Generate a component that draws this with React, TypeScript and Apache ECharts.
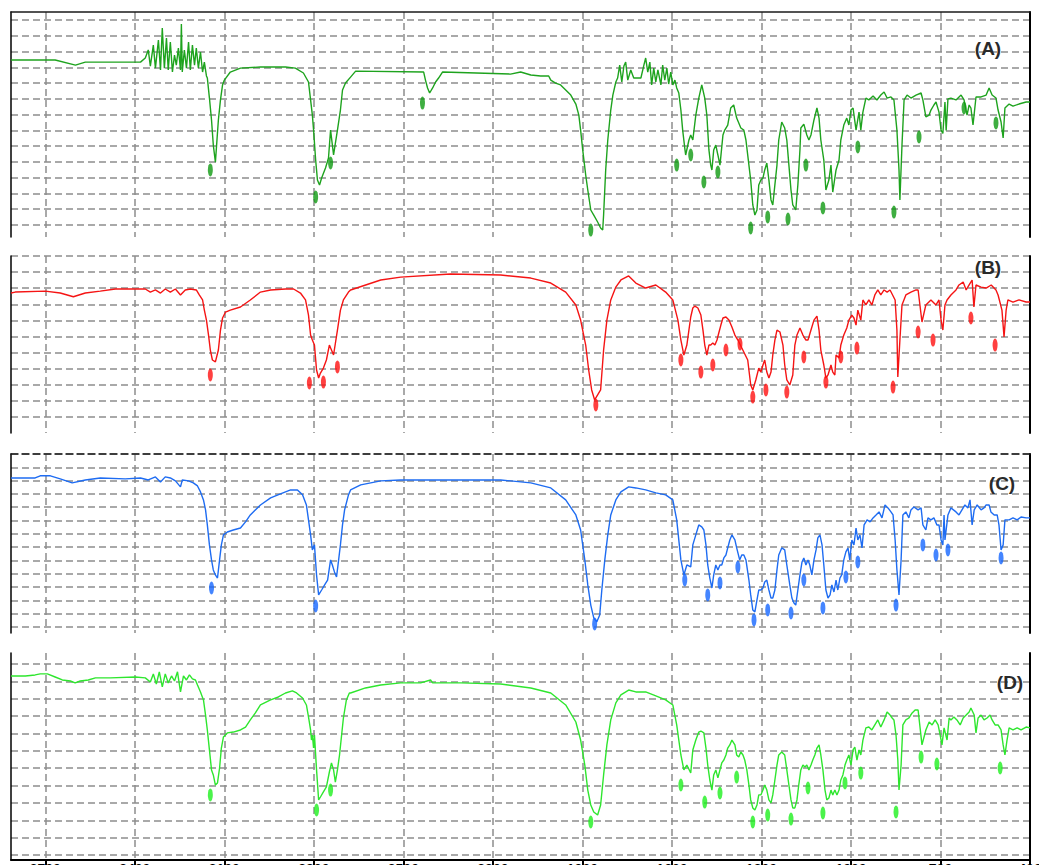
import React, { useEffect, useRef } from "react";
import * as echarts from "echarts";

// wavenumber range (cm-1), reversed axis
const WN_MIN = 400;
const WN_MAX = 3815;
const GRID_WN_START = 400;
const GRID_WN_END = 3700;
const GRID_WN_STEP = 300;

const specA: [number, number][] = [
  [3815,104.6],[3667,104.6],[3599,101.4],[3566,103.3],[3381,103.3],[3365,105.9],[3355,111],[3348,100.8],[3338,114.1],[3331,99.5],[3321,117.3],[3314,98.3],[3308,124.9],[3301,99.5],[3294,118.6],[3288,98.3],[3281,116],[3274,97],[3267,107.8],[3261,101.4],[3254,112.2],[3247,98.3],[3244,127.4],[3241,97],[3234,111],[3227,99.5],[3220,116],[3214,98.3],[3207,114.1],[3200,101.4],[3194,112.2],[3187,99.5],[3180,109.7],[3173,97],[3167,103.3],[3160,94.5],[3157,93.2],[3150,80.5],[3143,66.6],[3137,50.7],[3130,39.9],[3120,66.6],[3113,79.3],[3106,88.8],[3100,91.9],[3080,97],[3046,99.5],[2979,100.2],[2895,100.2],[2862,99.5],[2835,96.4],[2818,90.7],[2811,79.3],[2805,69.7],[2801,60.2],[2794,41.2],[2788,28.5],[2781,25.4],[2774,29.8],[2761,36.1],[2751,42.5],[2744,60.2],[2734,44.4],[2721,60.2],[2711,72.9],[2704,85.6],[2694,90],[2677,93.8],[2660,97.6],[2432,97],[2426,91.9],[2419,86.9],[2412,83.7],[2402,86.9],[2392,90.7],[2382,93.2],[2369,97],[2141,95.7],[2107,97],[2073,95.1],[2040,94.5],[2013,94.5],[2006,91.9],[1990,90],[1973,88.8],[1956,85.6],[1939,82.4],[1922,76.7],[1912,69.7],[1906,60.2],[1899,47.6],[1889,31.7],[1882,22.2],[1872,9.5],[1862,6.3],[1849,1.9],[1839,-1.9],[1832,-3.2],[1829,6.3],[1822,34.9],[1815,53.9],[1805,72.9],[1798,82.4],[1788,90.7],[1782,93.2],[1775,101.4],[1768,90.7],[1761,100.8],[1755,103.3],[1748,91.9],[1738,98.3],[1728,93.2],[1704,93.2],[1694,101.4],[1688,105.9],[1681,97],[1674,103.3],[1668,88.8],[1661,99.5],[1654,90.7],[1647,98.3],[1637,88.8],[1631,101.4],[1624,91.9],[1617,99.5],[1611,89.4],[1604,97],[1597,88.8],[1590,91.9],[1584,86.9],[1577,83.7],[1570,72.9],[1564,60.2],[1557,48.8],[1554,44.4],[1543,53.9],[1537,57.1],[1530,53.9],[1520,69.7],[1510,80.5],[1500,88.8],[1490,80.5],[1483,69.7],[1476,47.6],[1470,38],[1466,34.9],[1460,47.6],[1453,50.7],[1446,44.4],[1439,38],[1429,57.1],[1423,60.2],[1413,63.4],[1403,74.2],[1393,76.1],[1383,67.8],[1369,61.5],[1359,60.2],[1352,53.9],[1342,38],[1336,28.5],[1329,12.7],[1322,6.3],[1315,9.5],[1309,25.4],[1302,28.5],[1295,29.8],[1289,34.9],[1282,39.3],[1275,28.5],[1268,15.9],[1262,12.7],[1255,25.4],[1248,38],[1242,53.9],[1232,65.3],[1222,61.5],[1215,53.9],[1208,38],[1201,22.2],[1195,12.7],[1185,9.5],[1178,25.4],[1171,47.6],[1168,61.5],[1158,64],[1148,57.1],[1141,53.9],[1134,57.1],[1124,66.6],[1114,74.2],[1107,67.8],[1101,53.9],[1091,41.2],[1084,22.2],[1074,28.5],[1067,38],[1061,20.9],[1050,34.9],[1040,41.2],[1034,53.9],[1024,63.4],[1014,67.8],[1007,63.4],[1000,72.9],[993,74.2],[983,60.2],[973,71.6],[967,60.2],[960,71.6],[950,80.5],[940,79.3],[926,81.8],[913,79.3],[900,82.4],[889,84.3],[879,80.5],[866,81.2],[856,79.3],[846,60.2],[839,34.9],[836,15.9],[829,50.7],[822,79.3],[812,82.4],[799,80.5],[782,82.4],[765,83.7],[759,79.3],[749,68.5],[738,69.7],[732,72.9],[722,76.1],[715,78],[705,71.6],[698,60.2],[692,58],[685,78],[681,60],[675,80],[665,80.5],[648,79.3],[631,82.4],[621,79.3],[611,69.7],[604,76.1],[598,74.2],[591,63.4],[581,81.2],[564,81.2],[547,82.4],[537,86.9],[527,82.4],[514,80.5],[507,72.9],[497,65.3],[490,55.2],[484,74.2],[470,76.7],[457,75.4],[437,76.7],[413,78],[400,78]
];
const peaksA: [number, number][] = [
  [3147,34.9],[2794,17.8],[2744,39.3],[2436,77.3],[1872,-3.2],[1584,38],[1537,44.4],[1493,27.3],[1446,33.6],[1336,-1.9],[1279,5.1],[1211,3.8],[1151,38],[1094,10.8],[977,49.5],[856,8.2],[772,55.8],[621,74.2],[514,64.7]
];

const specB: [number, number][] = [
  [3815,77],[3801,77.6],[3700,78.2],[3650,77],[3606,74.7],[3566,77],[3516,78.2],[3465,79.5],[3398,79.5],[3365,79.5],[3348,77.6],[3331,78.9],[3314,77],[3298,79.5],[3281,77.6],[3264,79.5],[3247,75.8],[3231,78.9],[3214,79.5],[3194,78.9],[3184,75.8],[3173,72.7],[3167,66.4],[3160,60.2],[3153,50.9],[3147,41.6],[3140,35.4],[3130,34.2],[3120,41.6],[3113,54],[3106,61.5],[3096,65.2],[3080,66.4],[3046,68.3],[3013,72.7],[2979,77.6],[2945,78.9],[2895,79.5],[2868,79.5],[2845,77],[2828,72.7],[2818,63.3],[2811,50.9],[2805,47.8],[2798,44.7],[2791,29.2],[2784,24.2],[2778,27.3],[2768,30.4],[2758,35.4],[2748,44.7],[2741,41.6],[2734,38.5],[2721,54],[2711,66.4],[2701,72.7],[2684,77.6],[2677,78.9],[2576,85.1],[2509,86.9],[2342,88.8],[2174,88.2],[2073,86.3],[2006,83.2],[1956,77.6],[1922,69.6],[1906,60.2],[1889,44.7],[1879,29.2],[1869,16.8],[1859,10.6],[1849,13.7],[1839,16.8],[1829,41.6],[1818,60.2],[1805,72.7],[1788,80.7],[1771,85.1],[1745,87.6],[1721,83.2],[1688,80.1],[1654,82],[1621,77.6],[1597,72.7],[1580,60.2],[1570,47.8],[1560,38.5],[1550,44.7],[1537,62.1],[1530,67.7],[1523,68.9],[1513,67.7],[1503,63.3],[1496,54],[1490,44.7],[1483,38.5],[1476,44.7],[1470,44.7],[1463,46],[1456,44.7],[1449,47.8],[1443,52.2],[1436,57.1],[1429,61.5],[1419,62.1],[1409,60.2],[1399,55.9],[1389,50.9],[1379,47.8],[1346,35.4],[1336,19.9],[1329,16.8],[1319,23],[1309,30.4],[1302,27.9],[1295,32.3],[1289,35.4],[1282,27.9],[1275,24.2],[1268,27.9],[1262,38.5],[1255,47.8],[1248,54],[1238,52.8],[1228,44.7],[1222,32.3],[1215,23],[1205,19.9],[1195,26.1],[1188,44.7],[1181,50.9],[1171,55.3],[1161,50.9],[1151,47.8],[1144,47.8],[1134,54],[1124,60.2],[1114,62.7],[1107,54],[1101,41.6],[1091,32.3],[1084,24.2],[1077,26.1],[1067,32.3],[1061,27.9],[1054,26.1],[1050,38.5],[1040,36.6],[1034,44.7],[1024,50.9],[1014,55.3],[1007,60.2],[997,63.3],[990,61.5],[983,57.1],[977,66.4],[967,60.2],[960,72.7],[950,69.6],[940,72.7],[930,69.6],[920,75.8],[910,78.9],[900,75.8],[889,78.9],[879,77.6],[869,78.9],[852,72.7],[846,54],[843,24.8],[836,47.8],[829,69.6],[816,75.8],[799,77.6],[782,78.9],[775,78.9],[762,59],[749,69.6],[732,72.7],[715,69.6],[705,72.7],[698,60.2],[692,54],[685,69.6],[678,72.7],[665,75.8],[648,78.9],[638,82],[624,83.8],[614,78.9],[604,82],[594,85.1],[588,68.3],[581,82],[564,80.7],[547,80.1],[530,82],[514,78.9],[507,75.8],[494,66.4],[487,49.7],[480,66.4],[474,72.7],[457,71.4],[437,72.7],[413,71.4],[400,71.4]
];
const peaksB: [number, number][] = [
  [3147,26.1],[2815,21.1],[2768,21.7],[2721,31.1],[1855,7.5],[1570,35.4],[1503,27.9],[1463,32.3],[1419,41.6],[1372,45.3],[1329,12.4],[1285,16.8],[1215,15.5],[1158,37.3],[1084,21.7],[1034,37.3],[980,42.8],[859,18.6],[775,52.8],[725,47.8],[598,61.5],[517,44.7]
];

const specC: [number, number][] = [
  [3815,112],[3785,112],[3734,112],[3717,113.6],[3683,113.6],[3650,111.3],[3610,108.3],[3566,110.5],[3516,112],[3432,111.3],[3381,112],[3355,110.5],[3331,112.8],[3314,109],[3298,112.8],[3281,112],[3264,109.8],[3247,105.3],[3241,110.5],[3220,109.8],[3204,108.3],[3190,106],[3180,101.5],[3170,95.5],[3163,88],[3157,76.7],[3150,61.7],[3143,50.4],[3137,42.9],[3130,39.1],[3123,36.8],[3116,50.4],[3110,61.7],[3103,69.2],[3090,71.4],[3070,72.9],[3046,74.4],[3029,79],[3013,84.2],[2979,91.7],[2945,97],[2912,100],[2878,103],[2855,103],[2838,99.3],[2825,91.7],[2818,80.5],[2811,69.2],[2805,57.9],[2798,61.7],[2791,39.1],[2784,24.1],[2774,27.8],[2764,31.6],[2754,35.3],[2744,50.4],[2738,46.6],[2731,41.4],[2724,37.6],[2717,50.4],[2711,61.7],[2704,76.7],[2697,88],[2684,99.3],[2677,103],[2643,106.8],[2576,109.8],[2509,110.5],[2342,110.5],[2174,110.5],[2073,108.3],[2006,104.5],[1956,95.5],[1922,84.2],[1906,72.9],[1892,50.4],[1882,31.6],[1872,16.5],[1862,6.8],[1852,3.8],[1842,9],[1835,27.8],[1825,50.4],[1815,69.2],[1805,84.2],[1788,95.5],[1771,101.5],[1745,105.3],[1721,104.5],[1688,103],[1654,100.8],[1621,99.3],[1597,95.5],[1584,80.5],[1570,50.4],[1560,39.1],[1550,46.6],[1537,45.1],[1530,61.7],[1520,69.2],[1510,76.7],[1500,75.2],[1493,72.9],[1486,61.7],[1480,46.6],[1473,36.8],[1466,29.3],[1460,39.1],[1453,46.6],[1446,42.9],[1439,46.6],[1433,46.6],[1426,51.9],[1419,54.1],[1413,59.4],[1406,65.4],[1399,69.2],[1389,65.4],[1383,59.4],[1373,50.4],[1366,54.1],[1359,54.1],[1352,50.4],[1342,35.3],[1336,24.1],[1329,12.8],[1322,11.3],[1315,20.3],[1309,27.8],[1302,27.8],[1295,29.3],[1289,33.8],[1282,35.3],[1275,27.8],[1268,21.8],[1262,21.8],[1255,27.8],[1248,42.9],[1242,54.1],[1232,59.4],[1222,57.9],[1215,46.6],[1205,31.6],[1198,21.8],[1191,18],[1185,16.5],[1178,27.8],[1171,39.1],[1164,48.9],[1158,51.9],[1151,46.6],[1144,50.4],[1138,46.6],[1131,39.1],[1124,50.4],[1117,57.9],[1111,66.9],[1104,69.2],[1097,61.7],[1091,46.6],[1084,27.8],[1077,21.8],[1070,24.1],[1064,31.6],[1057,26.3],[1050,35.3],[1044,27.8],[1037,36.8],[1031,39.1],[1024,50.4],[1017,56.4],[1010,59.4],[1004,50.4],[997,65.4],[990,61.7],[983,74.4],[977,65.4],[970,69.2],[963,59.4],[956,76.7],[946,80.5],[936,79],[926,82],[916,84.2],[906,86.5],[896,82],[886,91.7],[876,89.5],[866,86.5],[859,84.2],[852,65.4],[846,42.9],[839,24.1],[832,50.4],[826,84.2],[816,86.5],[806,82],[799,88],[789,90.2],[775,88],[765,89.5],[759,76.7],[749,72.9],[742,82],[732,80.5],[722,82],[712,76.7],[705,76.7],[698,65.4],[692,61.7],[688,84.2],[685,65.4],[675,84.2],[665,89.5],[648,86.5],[638,84.2],[628,88],[618,91.7],[608,89.5],[601,95.5],[594,76.7],[587,88],[577,91.7],[564,88],[554,89.5],[547,91.7],[537,91.7],[531,86.5],[520,84.2],[510,84.2],[504,76.7],[497,57.9],[490,61.7],[484,80.5],[470,80.5],[457,82],[443,80.5],[430,82.7],[413,82],[400,82]
];
const peaksC: [number, number][] = [
  [3143,29.3],[2794,15.8],[1859,2.3],[1557,35.3],[1480,24.1],[1439,33.1],[1379,45.1],[1325,5.3],[1279,12.8],[1201,10.5],[1158,35.3],[1094,14.3],[1017,37.6],[977,48.9],[849,16.5],[759,61.7],[715,54.1],[675,57.9],[497,51.9]
];

const specD: [number, number][] = [
  [3815,103.1],[3767,103.1],[3734,103.7],[3717,104.3],[3693,104.3],[3667,102.5],[3643,100.8],[3616,100.2],[3600,99.1],[3583,100.2],[3556,100.8],[3532,102],[3482,102],[3398,102.5],[3365,102],[3348,99.6],[3338,104.3],[3328,98.5],[3318,105.5],[3308,96.8],[3298,104.3],[3288,99.1],[3277,103.1],[3267,100.2],[3257,105.5],[3247,93.9],[3237,103.1],[3227,100.8],[3217,103.7],[3207,101.4],[3197,100.8],[3190,97.9],[3180,93.9],[3170,89.3],[3163,80.6],[3157,72],[3150,60.5],[3143,49],[3137,46.1],[3130,40.3],[3123,41.5],[3116,50.1],[3110,61.6],[3103,68],[3090,70.3],[3070,70.8],[3046,72],[3029,73.7],[3013,77.8],[2996,81.8],[2979,86.4],[2945,89.3],[2919,91],[2895,93.3],[2872,94.5],[2858,93.3],[2838,90.4],[2825,86.4],[2818,79.5],[2811,72],[2808,66.2],[2805,69.1],[2801,61.6],[2798,69.1],[2791,49],[2784,31.7],[2778,33.4],[2768,36.3],[2758,39.2],[2748,47.8],[2741,53],[2734,49],[2728,42],[2721,49],[2714,57.6],[2707,69.1],[2701,78.9],[2691,89.3],[2681,93.3],[2677,93.3],[2627,96.2],[2576,97.9],[2509,99.1],[2442,99.1],[2409,100.8],[2402,99.1],[2308,99.1],[2174,98.5],[2073,96.2],[2006,93.3],[1956,86.4],[1922,76.6],[1906,66.2],[1892,51.8],[1882,37.4],[1872,28.8],[1862,24.8],[1849,23],[1839,28.8],[1829,46.1],[1818,63.4],[1805,77.8],[1788,87.6],[1771,92.2],[1745,95],[1721,93.9],[1688,93.9],[1654,91.6],[1621,89.3],[1597,86.4],[1584,74.9],[1570,57.6],[1560,49],[1550,51.8],[1537,47.2],[1530,60.5],[1520,66.2],[1510,70.8],[1503,71.4],[1493,70.3],[1486,61.6],[1480,51.8],[1473,43.2],[1466,37.4],[1460,46.1],[1453,49],[1446,44.4],[1439,49],[1433,53],[1426,54.7],[1419,57.6],[1413,61.6],[1406,63.4],[1399,66.2],[1389,63.4],[1383,57.6],[1376,56.4],[1369,59.3],[1362,57.6],[1356,54.7],[1349,49],[1342,40.3],[1336,31.7],[1329,27.1],[1322,25.9],[1315,28.8],[1309,34.6],[1302,34.6],[1295,37.4],[1289,40.3],[1282,37.4],[1275,31.7],[1268,30],[1262,34.6],[1255,43.2],[1248,51.8],[1242,57.6],[1232,59.3],[1222,57.6],[1215,49],[1208,40.3],[1201,31.7],[1195,27.1],[1188,27.1],[1181,31.7],[1175,40.3],[1168,49],[1161,51.8],[1154,50.7],[1148,51.8],[1141,49],[1134,51.8],[1128,54.7],[1121,57.6],[1114,61.6],[1107,63.4],[1101,57.6],[1094,49],[1087,37.4],[1081,31.7],[1074,32.8],[1067,37.4],[1061,34.6],[1054,37.4],[1047,34.6],[1040,37.4],[1034,43.2],[1027,46.1],[1020,51.8],[1014,54.7],[1007,57.6],[1000,51.8],[993,60.5],[987,62.2],[980,54.7],[973,60.5],[967,57.6],[960,66.2],[950,73.2],[940,73.7],[930,72],[920,74.9],[910,77.8],[900,73.7],[889,77.8],[879,82.4],[869,80.6],[862,78.9],[856,77.8],[849,69.1],[843,54.7],[839,37.4],[832,51.8],[826,74.9],[816,77.8],[806,78.9],[795,81.8],[785,83.5],[775,83.5],[762,63.4],[749,72],[738,76.6],[728,74.9],[718,77.8],[708,74.9],[701,69.1],[695,63.4],[688,73.2],[678,66.2],[671,78.9],[665,77.8],[655,79.5],[645,77.8],[634,74.9],[624,78.9],[614,80.6],[604,82.4],[598,84.7],[587,80.6],[581,70.3],[574,78.9],[564,80.6],[554,77.8],[544,78.9],[534,80.6],[527,77.8],[517,74.9],[507,74.9],[497,72],[490,63.4],[484,57.6],[477,66.2],[470,73.2],[457,72],[443,73.2],[430,72],[413,73.7],[400,73.2]
];
const peaksD: [number, number][] = [
  [3147,34.6],[2791,25.9],[2744,37.4],[1872,19],[1570,40.3],[1490,30.5],[1439,35.7],[1383,44.9],[1329,19],[1279,23],[1201,20.7],[1144,38.6],[1094,24.2],[1020,41.5],[967,47.2],[849,24.8],[765,56.4],[712,52.4],[500,50.1]
];

const panelNames = ["(A)", "(B)", "(C)", "(D)"];

// layout & style configuration
const layout = [
  { spec: specA, peaks: peaksA, line: "#1ea31e", mark: "#0f9a12", top: 12, height: 225, yMin: -7.61, yMax: 135.07, gTop: 20, gHeight: 205, gMax: 130, lx: 988, ly: 48, topBorder: "solid", bottom: false },
  { spec: specB, peaks: peaksB, line: "#f51414", mark: "#ff1010", top: 256, height: 177, yMin: -9.94, yMax: 100, gTop: 256, gHeight: 161, gMax: 100, lx: 988, ly: 267, topBorder: "", bottom: false },
  { spec: specC, peaks: peaksC, line: "#1e6cf2", mark: "#1566ff", top: 454, height: 179, yMin: -4.51, yMax: 130, gTop: 454, gHeight: 173, gMax: 130, lx: 1002, ly: 483, topBorder: "dashed", bottom: false },
  { spec: specD, peaks: peaksD, line: "#2ee62e", mark: "#1ef01e", top: 653, height: 207, yMin: -2.88, yMax: 116.33, gTop: 664, gHeight: 191, gMax: 110, lx: 1010, ly: 682, topBorder: "", bottom: true },
];

const gridLineStyle = { color: "#8d8d8d", width: 1.5, type: [7, 4] as any };
const ellipse = "path://M10,0A10,10,0,1,1,10,20A10,10,0,1,1,10,0Z";
const FONT = "'Liberation Sans', Arial, sans-serif";

function buildOption() {
  const grid: any[] = [];
  const xAxis: any[] = [];
  const yAxis: any[] = [];
  const series: any[] = [];
  const graphic: any[] = [];
  const hidden = { axisLine: { show: false }, axisTick: { show: false }, axisLabel: { show: false }, splitLine: { show: false } };
  const gridBase = { containLabel: false, outerBoundsMode: "none" };

  layout.forEach((p, i) => {
    // data grid
    const gData = grid.length;
    grid.push({ ...gridBase, left: 11, right: 9, top: p.top, height: p.height });
    const xi = xAxis.length;
    xAxis.push({
      type: "value", gridIndex: gData, min: WN_MIN, max: WN_MAX, inverse: true, position: "bottom",
      axisLine: { show: p.bottom, onZero: false, lineStyle: { color: "#000", width: 2 } },
      axisTick: { show: false }, axisLabel: { show: false }, splitLine: { show: false },
    });
    if (p.topBorder) {
      xAxis.push({
        type: "value", gridIndex: gData, min: WN_MIN, max: WN_MAX, inverse: true, position: "top",
        axisLine: { show: true, onZero: false, lineStyle: { color: "#1a1a1a", width: 1.5, type: p.topBorder === "dashed" ? [7, 4] : "solid" } },
        axisTick: { show: false }, axisLabel: { show: false }, splitLine: { show: false },
      });
    }
    const yi = yAxis.length;
    yAxis.push({
      type: "value", gridIndex: gData, min: p.yMin, max: p.yMax, position: "left",
      axisLine: { show: true, onZero: false, lineStyle: { color: "#000", width: 1.5 } },
      axisTick: { show: false }, axisLabel: { show: false }, splitLine: { show: false },
    });
    yAxis.push({
      type: "value", gridIndex: gData, min: p.yMin, max: p.yMax, position: "right",
      axisLine: { show: true, onZero: false, lineStyle: { color: "#000", width: 2 } },
      axisTick: { show: false }, axisLabel: { show: false }, splitLine: { show: false },
    });

    // horizontal grid lines
    const gH = grid.length;
    grid.push({ ...gridBase, left: 11, right: 9, top: p.gTop, height: p.gHeight });
    xAxis.push({ type: "value", gridIndex: gH, min: 0, max: 1, ...hidden });
    yAxis.push({
      type: "value", gridIndex: gH, min: 0, max: p.gMax, interval: 10,
      axisLine: { show: false }, axisTick: { show: false }, axisLabel: { show: false },
      splitLine: { show: true, lineStyle: gridLineStyle },
    });

    // vertical grid lines (+ bottom ticks for last panel)
    const gV = grid.length;
    grid.push({ ...gridBase, left: 45.3, right: 9, top: p.top, height: p.height });
    xAxis.push({
      type: "value", gridIndex: gV, min: GRID_WN_START, max: GRID_WN_END, interval: GRID_WN_STEP, inverse: true, position: "bottom",
      axisLine: { show: false, onZero: false },
      axisTick: { show: p.bottom, inside: false, length: 5, lineStyle: { color: "#000", width: 2 } },
      axisLabel: { show: p.bottom, margin: 2, color: "#000", fontSize: 14, fontWeight: "bold", fontFamily: FONT, formatter: (v: number) => String(v), hideOverlap: false },
      splitLine: { show: true, lineStyle: gridLineStyle },
    });
    yAxis.push({ type: "value", gridIndex: gV, min: 0, max: 1, ...hidden });

    series.push({
      type: "line", xAxisIndex: xi, yAxisIndex: yi, data: p.spec, showSymbol: false, symbol: "none",
      lineStyle: { color: p.line, width: 1.4 }, z: 3, silent: true,
    });
    series.push({
      type: "scatter", xAxisIndex: xi, yAxisIndex: yi, data: p.peaks, symbol: ellipse, symbolSize: [5, 13],
      itemStyle: { color: p.mark }, z: 4, silent: true,
    });

    graphic.push({
      type: "text", x: p.lx, y: p.ly, z: 10,
      style: { text: panelNames[i], fontSize: 19, fontWeight: "bold", fontFamily: FONT, fill: "#2a2a2a", align: "center", verticalAlign: "middle" },
    });
  });

  return { animation: false, backgroundColor: "#ffffff", grid, xAxis, yAxis, series, graphic };
}

export default function App() {
  const ref = useRef<HTMLDivElement>(null);
  useEffect(() => {
    if (!ref.current) return;
    const chart = echarts.init(ref.current, null, { renderer: "svg" });
    chart.setOption(buildOption() as any);
    return () => chart.dispose();
  }, []);
  return <div ref={ref} style={{ position: "absolute", left: 0, top: 0, width: 1039, height: 865, background: "#fff", overflow: "hidden" }} />;
}
